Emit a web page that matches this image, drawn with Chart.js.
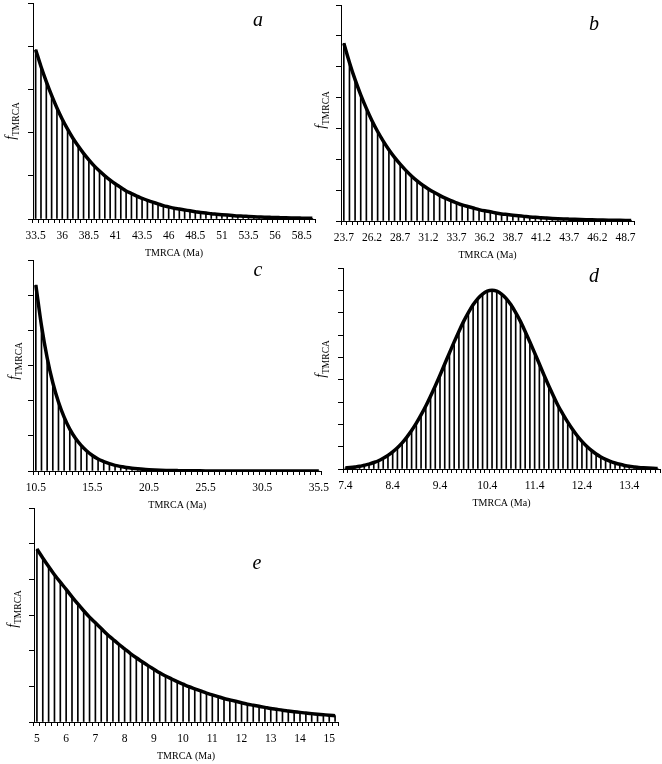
<!DOCTYPE html>
<html lang="en">
<head>
<meta charset="UTF-8" />
<title>TMRCA distributions</title>
<script src="https://cdn.jsdelivr.net/npm/chart.js"></script>
<style>
  html, body { margin: 0; padding: 0; width: 662px; height: 764px; overflow: hidden; background: #fff; }
  canvas { position: absolute; }
  .lbl { position: absolute; font-family: "Liberation Serif", serif; color: #000; transform: translate(-50%, -50%); white-space: nowrap; }
  .panel { font-style: italic; font-size: 20px; }
  .ytitle { transform: translate(-50%, -50%) rotate(-90deg); font-size: 14px; }
  .ytitle sub { font-style: normal; font-size: 9.5px; }
</style>
</head>
<body>
  <canvas id="chartA"></canvas>
  <canvas id="chartB"></canvas>
  <canvas id="chartC"></canvas>
  <canvas id="chartD"></canvas>
  <canvas id="chartE"></canvas>

  <!-- panel letters -->
  <div class="lbl panel" style="left:258px;top:19px">a</div>
  <div class="lbl panel" style="left:594px;top:23px">b</div>
  <div class="lbl panel" style="left:258px;top:269px">c</div>
  <div class="lbl panel" style="left:594px;top:275px">d</div>
  <div class="lbl panel" style="left:257px;top:562px">e</div>

  <!-- y axis titles -->
  <div class="lbl ytitle" style="left:12px;top:121px"><i>f</i><sub>TMRCA</sub></div>
  <div class="lbl ytitle" style="left:322px;top:110px"><i>f</i><sub>TMRCA</sub></div>
  <div class="lbl ytitle" style="left:15px;top:361px"><i>f</i><sub>TMRCA</sub></div>
  <div class="lbl ytitle" style="left:322px;top:359px"><i>f</i><sub>TMRCA</sub></div>
  <div class="lbl ytitle" style="left:14px;top:609px"><i>f</i><sub>TMRCA</sub></div>

<script>
// a
var catA = [33.5, 34, 34.5, 35, 35.5, 36, 36.5, 37, 37.5, 38, 38.5, 39, 39.5, 40, 40.5, 41, 41.5, 42, 42.5, 43,
  43.5, 44, 44.5, 45, 45.5, 46, 46.5, 47, 47.5, 48, 48.5, 49, 49.5, 50, 50.5, 51, 51.5, 52, 52.5, 53,
  53.5, 54, 54.5, 55, 55.5, 56, 56.5, 57, 57.5, 58, 58.5, 59, 59.5];
var valA = [3.92, 3.53, 3.18, 2.86, 2.57, 2.31, 2.08, 1.87, 1.69, 1.52, 1.37, 1.23, 1.11, 1.00, 0.90, 0.81, 0.73, 0.65, 0.59, 0.53,
  0.48, 0.43, 0.39, 0.35, 0.31, 0.28, 0.25, 0.23, 0.21, 0.19, 0.17, 0.15, 0.14, 0.12, 0.11, 0.10, 0.09, 0.08, 0.07, 0.065,
  0.058, 0.052, 0.047, 0.042, 0.038, 0.034, 0.031, 0.028, 0.025, 0.022, 0.020, 0.018, 0.016];

// b
var catB = [23.7, 24.2, 24.7, 25.2, 25.7, 26.2, 26.7, 27.2, 27.7, 28.2, 28.7, 29.2, 29.7, 30.2, 30.7, 31.2, 31.7, 32.2, 32.7, 33.2,
  33.7, 34.2, 34.7, 35.2, 35.7, 36.2, 36.7, 37.2, 37.7, 38.2, 38.7, 39.2, 39.7, 40.2, 40.7, 41.2, 41.7, 42.2, 42.7, 43.2,
  43.7, 44.2, 44.7, 45.2, 45.7, 46.2, 46.7, 47.2, 47.7, 48.2, 48.7, 49.2];
var valB = [5.76, 5.14, 4.58, 4.09, 3.65, 3.25, 2.90, 2.59, 2.31, 2.06, 1.84, 1.64, 1.46, 1.30, 1.16, 1.04, 0.93, 0.83, 0.74, 0.66,
  0.59, 0.52, 0.47, 0.42, 0.37, 0.33, 0.30, 0.26, 0.23, 0.21, 0.19, 0.17, 0.15, 0.13, 0.12, 0.105, 0.094, 0.084, 0.075, 0.067,
  0.060, 0.053, 0.047, 0.042, 0.038, 0.034, 0.030, 0.027, 0.024, 0.021, 0.019, 0.017];

// c
var catC = [10.5, 11, 11.5, 12, 12.5, 13, 13.5, 14, 14.5, 15, 15.5, 16, 16.5, 17, 17.5, 18, 18.5, 19, 19.5, 20,
  20.5, 21, 21.5, 22, 22.5, 23, 23.5, 24, 24.5, 25, 25.5, 26, 26.5, 27, 27.5, 28, 28.5, 29, 29.5, 30,
  30.5, 31, 31.5, 32, 32.5, 33, 33.5, 34, 34.5, 35, 35.5];
var valC = [5.29, 4.13, 3.22, 2.51, 1.96, 1.53, 1.19, 0.93, 0.73, 0.57, 0.44, 0.34, 0.27, 0.21, 0.16, 0.13, 0.10, 0.078, 0.061, 0.047,
  0.037, 0.029, 0.022, 0.017, 0.014, 0.011, 0.0083, 0.0065, 0.0051, 0.004, 0.003, 0.0024, 0.0019, 0.0015, 0.0011, 0.0009,
  0.0007, 0.0005, 0.0004, 0.0003, 0.0003, 0.0002, 0.0002, 0.0001, 0.0001, 0.0001, 0.0001, 0.0001, 0, 0, 0];

// d
var catD = [7.4, 7.5, 7.6, 7.7, 7.8, 7.9, 8.0, 8.1, 8.2, 8.3, 8.4, 8.5, 8.6, 8.7, 8.8, 8.9, 9.0, 9.1, 9.2, 9.3,
  9.4, 9.5, 9.6, 9.7, 9.8, 9.9, 10.0, 10.1, 10.2, 10.3, 10.4, 10.5, 10.6, 10.7, 10.8, 10.9, 11.0, 11.1, 11.2, 11.3,
  11.4, 11.5, 11.6, 11.7, 11.8, 11.9, 12.0, 12.1, 12.2, 12.3, 12.4, 12.5, 12.6, 12.7, 12.8, 12.9, 13.0, 13.1, 13.2, 13.3,
  13.4, 13.5, 13.6, 13.7, 13.8, 13.9, 14.0];
var valD = [0.048, 0.067, 0.09, 0.12, 0.17, 0.22, 0.29, 0.37, 0.48, 0.61, 0.77, 0.95, 1.17, 1.43, 1.72, 2.05, 2.42, 2.82, 3.26, 3.72,
  4.20, 4.70, 5.20, 5.69, 6.16, 6.61, 7.00, 7.35, 7.63, 7.83, 7.96, 8.00, 7.96, 7.83, 7.63, 7.35, 7.00, 6.61, 6.16, 5.69,
  5.20, 4.70, 4.20, 3.72, 3.26, 2.82, 2.45, 2.10, 1.78, 1.49, 1.24, 1.02, 0.83, 0.67, 0.54, 0.43, 0.34, 0.27, 0.21, 0.16,
  0.12, 0.095, 0.072, 0.055, 0.041, 0.031, 0.023];

// e
var catE = [5, 5.2, 5.4, 5.6, 5.8, 6, 6.2, 6.4, 6.6, 6.8, 7, 7.2, 7.4, 7.6, 7.8, 8, 8.2, 8.4, 8.6, 8.8,
  9, 9.2, 9.4, 9.6, 9.8, 10, 10.2, 10.4, 10.6, 10.8, 11, 11.2, 11.4, 11.6, 11.8, 12, 12.2, 12.4, 12.6, 12.8,
  13, 13.2, 13.4, 13.6, 13.8, 14, 14.2, 14.4, 14.6, 14.8, 15, 15.2];
var valE = [4.85, 4.60, 4.36, 4.13, 3.92, 3.72, 3.51, 3.31, 3.12, 2.94, 2.78, 2.62, 2.46, 2.32, 2.18, 2.05, 1.92, 1.80, 1.69, 1.58,
  1.48, 1.38, 1.29, 1.21, 1.13, 1.06, 0.99, 0.93, 0.87, 0.81, 0.76, 0.71, 0.66, 0.62, 0.58, 0.54, 0.50, 0.47, 0.44, 0.41,
  0.38, 0.355, 0.33, 0.31, 0.29, 0.27, 0.25, 0.235, 0.22, 0.205, 0.19, 0.177];

var serif = 'Liberation Serif';

// area = [left, right, top, bottom] of the plot box on the page
function makePanel(id, area, cats, vals, yMax, every) {
  var c = document.getElementById(id);
  var w = area[1] - area[0] + 42, h = area[3] - area[2] + 48;
  c.style.left = (area[0] - 30) + 'px';
  c.style.top = (area[2] - 4) + 'px';
  c.width = w; c.height = h;
  c.style.width = w + 'px'; c.style.height = h + 'px';

  return new Chart(c, {
    type: 'bar',
    data: {
      labels: cats,
      datasets: [
        { type: 'line', data: vals, borderColor: '#000', borderWidth: 3.5, pointRadius: 0,
          cubicInterpolationMode: 'monotone', order: 0 },
        { type: 'bar', data: vals, backgroundColor: '#000', barThickness: 1, order: 1 }
      ]
    },
    options: {
      responsive: false,
      animation: false,
      layout: { padding: { left: 25, right: 12, top: 4, bottom: 4 } },
      plugins: { legend: { display: false }, tooltip: { enabled: false } },
      scales: {
        x: {
          grid: { drawOnChartArea: false, tickLength: 4, color: '#000' },
          border: { color: '#000' },
          ticks: {
            autoSkip: false, maxRotation: 0, padding: 6, color: '#000',
            font: { family: serif, size: 11.5 },
            callback: function (v, i) { return i % every === 0 ? this.getLabelForValue(v) : ''; }
          },
          title: { display: true, text: 'TMRCA (Ma)', color: '#000', font: { family: serif, size: 10 }, padding: { top: 2, bottom: 0 } },
          afterFit: function (s) { s.height = 40; }
        },
        y: {
          min: 0, max: yMax,
          grid: { drawOnChartArea: false, tickLength: 5, color: '#000' },
          border: { color: '#000' },
          ticks: { display: false, stepSize: 1 },
          afterFit: function (s) { s.width = 5; }
        }
      }
    }
  });
}

makePanel('chartA', [33, 315, 3, 219], catA, valA, 5, 5);
makePanel('chartB', [341, 634, 5, 221], catB, valB, 7, 5);
makePanel('chartC', [33, 323, 260, 471], catC, valC, 6, 10);
makePanel('chartD', [343, 660, 268, 469], catD, valD, 9, 10);
makePanel('chartE', [34, 338, 508, 722], catE, valE, 6, 5);
</script>
</body>
</html>
